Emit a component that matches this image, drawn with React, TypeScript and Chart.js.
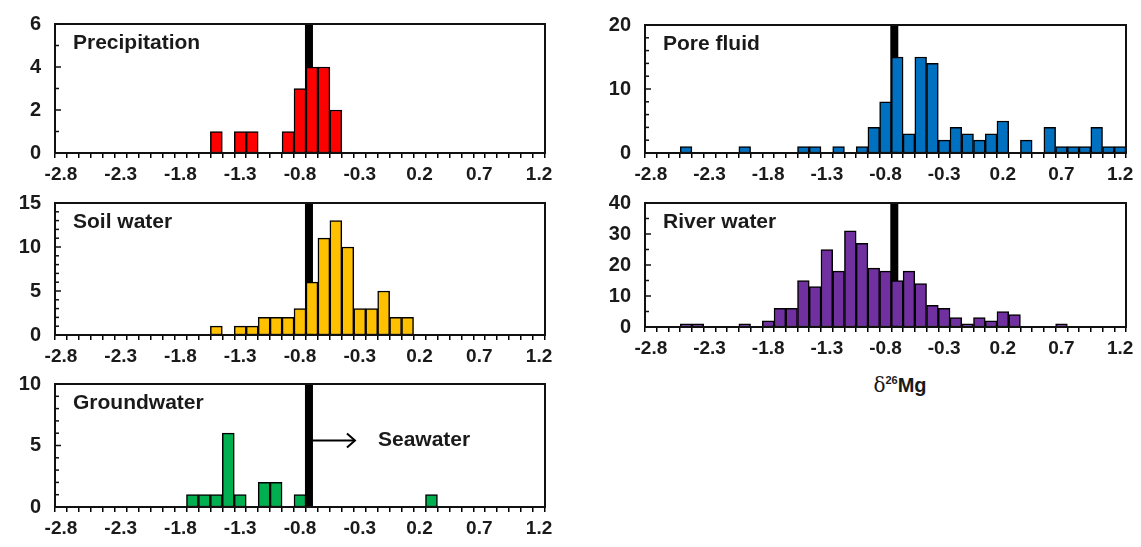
import React, { useEffect, useRef } from "react";
import { Chart, registerables } from "chart.js";

Chart.register(...registerables);

// δ26Mg bins (category axis, 0.1 wide)
const categories = [
  "-2.8", "-2.7", "-2.6", "-2.5", "-2.4", "-2.3", "-2.2", "-2.1", "-2.0", "-1.9",
  "-1.8", "-1.7", "-1.6", "-1.5", "-1.4", "-1.3", "-1.2", "-1.1", "-1.0", "-0.9",
  "-0.8", "-0.7", "-0.6", "-0.5", "-0.4", "-0.3", "-0.2", "-0.1", "0.0", "0.1",
  "0.2", "0.3", "0.4", "0.5", "0.6", "0.7", "0.8", "0.9", "1.0", "1.1",
  "1.2",
];
const xTickLabels = ["-2.8", "-2.3", "-1.8", "-1.3", "-0.8", "-0.3", "0.2", "0.7", "1.2"];

const precipitation = [
  0, 0, 0, 0, 0, 0, 0, 0, 0, 0,
  0, 0, 0, 1, 0, 1, 1, 0, 0, 1,
  3, 4, 4, 2, 0, 0, 0, 0, 0, 0,
  0, 0, 0, 0, 0, 0, 0, 0, 0, 0,
  0,
];
const soilWater = [
  0, 0, 0, 0, 0, 0, 0, 0, 0, 0,
  0, 0, 0, 1, 0, 1, 1, 2, 2, 2,
  3, 6, 11, 13, 10, 3, 3, 5, 2, 2,
  0, 0, 0, 0, 0, 0, 0, 0, 0, 0,
  0,
];
const groundwater = [
  0, 0, 0, 0, 0, 0, 0, 0, 0, 0,
  0, 1, 1, 1, 6, 1, 0, 2, 2, 0,
  1, 0, 0, 0, 0, 0, 0, 0, 0, 0,
  0, 1, 0, 0, 0, 0, 0, 0, 0, 0,
  0,
];
const poreFluid = [
  0, 0, 0, 1, 0, 0, 0, 0, 1, 0,
  0, 0, 0, 1, 1, 0, 1, 0, 1, 4,
  8, 15, 3, 15, 14, 2, 4, 3, 2, 3,
  5, 0, 2, 0, 4, 1, 1, 1, 4, 1,
  1,
];
const riverWater = [
  0, 0, 0, 1, 1, 0, 0, 0, 1, 0,
  2, 6, 6, 15, 13, 25, 18, 31, 27, 19,
  18, 15, 18, 14, 7, 6, 3, 1, 3, 2,
  5, 4, 0, 0, 0, 1, 0, 0, 0, 0,
  0,
];

// seawater reference mark, as placed on the category axis
const seawaterMark = -0.725;

const FONT = '"Liberation Sans", Arial, Helvetica, sans-serif';
const YW = 55;
const PT = 26; // space Chart.js reserves above the plot for the top y label
const PR = 16;
const XH = 34;

type PanelDef = {
  label: string;
  data: number[];
  color: string;
  yMax: number;
  yMajor: number;
  yMinor: number;
  px0: number;
  px1: number;
  py0: number;
  py1: number;
  seawaterNote?: boolean;
};

const panels: PanelDef[] = [
  { label: "Precipitation", data: precipitation, color: "#FF0000", yMax: 6, yMajor: 2, yMinor: 1, px0: 55, px1: 545, py0: 24, py1: 153 },
  { label: "Soil water", data: soilWater, color: "#FFC000", yMax: 15, yMajor: 5, yMinor: 1, px0: 55, px1: 545, py0: 203, py1: 335 },
  { label: "Groundwater", data: groundwater, color: "#00B050", yMax: 10, yMajor: 5, yMinor: 1, px0: 55, px1: 545, py0: 384, py1: 507, seawaterNote: true },
  { label: "Pore fluid", data: poreFluid, color: "#0070C0", yMax: 20, yMajor: 10, yMinor: 2, px0: 645, px1: 1126, py0: 25, py1: 153 },
  { label: "River water", data: riverWater, color: "#7030A0", yMax: 40, yMajor: 10, yMinor: 5, px0: 645, px1: 1126, py0: 203, py1: 327 },
];

function Panel({ def }: { def: PanelDef }) {
  const ref = useRef<HTMLCanvasElement | null>(null);
  const width = def.px1 - def.px0 + YW + PR;
  const height = def.py1 - def.py0 + PT + XH;

  useEffect(() => {
    const canvas = ref.current;
    if (!canvas) return;
    const start = Number(categories[0]);
    const step = Number(categories[1]) - Number(categories[0]);
    const markIndex = (seawaterMark - start) / step;

    const decor = {
      id: "decor",
      beforeDatasetsDraw(chart: any) {
        const { ctx, chartArea, scales } = chart;
        const x = scales.x.getPixelForValue(markIndex);
        ctx.save();
        ctx.fillStyle = "#000";
        ctx.fillRect(x - 4, chartArea.top, 8, chartArea.bottom - chartArea.top);
        ctx.restore();
      },
      afterDatasetsDraw(chart: any) {
        const { ctx, chartArea, scales } = chart;
        ctx.save();
        ctx.strokeStyle = "#111";
        ctx.lineWidth = 2;
        ctx.strokeRect(chartArea.left, chartArea.top, chartArea.right - chartArea.left, chartArea.bottom - chartArea.top);
        // inner y ticks
        ctx.lineWidth = 1.5;
        scales.y.ticks.forEach((t: any) => {
          const y = scales.y.getPixelForValue(t.value);
          const len = t.value % def.yMajor === 0 ? 6 : 4;
          ctx.beginPath();
          ctx.moveTo(chartArea.left, y);
          ctx.lineTo(chartArea.left + len, y);
          ctx.stroke();
        });
        // panel label
        ctx.fillStyle = "#1a1a1a";
        ctx.font = `bold 21px ${FONT}`;
        ctx.textBaseline = "middle";
        ctx.textAlign = "left";
        ctx.fillText(def.label, chartArea.left + 18, chartArea.top + 19);
        if (def.seawaterNote) {
          const x = scales.x.getPixelForValue(markIndex);
          const y = scales.y.getPixelForValue(5.4);
          ctx.strokeStyle = "#000";
          ctx.lineWidth = 2;
          ctx.beginPath();
          ctx.moveTo(x + 4, y);
          ctx.lineTo(x + 46, y);
          ctx.stroke();
          ctx.beginPath();
          ctx.moveTo(x + 38, y - 7);
          ctx.lineTo(x + 46, y);
          ctx.lineTo(x + 38, y + 7);
          ctx.stroke();
          ctx.fillText("Seawater", x + 69, y);
        }
        ctx.restore();
      },
    };

    const chart = new Chart(canvas, {
      type: "bar",
      data: {
        labels: categories,
        datasets: [
          {
            data: def.data.map((v) => (v === 0 ? null : v)),
            backgroundColor: def.color,
            borderColor: "#000",
            borderWidth: 1.5,
            borderSkipped: false,
            barPercentage: 1,
            categoryPercentage: 1,
          },
        ],
      },
      options: {
        responsive: false,
        maintainAspectRatio: false,
        animation: false,
        events: [],
        layout: { padding: { top: 0, right: PR, left: 0, bottom: 0 } },
        plugins: { legend: { display: false }, tooltip: { enabled: false } },
        scales: {
          x: {
            type: "category",
            offset: true,
            afterFit: (s: any) => {
              s.height = XH;
            },
            border: { display: false },
            grid: {
              offset: true,
              drawOnChartArea: false,
              drawTicks: true,
              tickLength: 5,
              color: "#000",
              lineWidth: 1.5,
            },
            ticks: {
              autoSkip: false,
              maxRotation: 0,
              minRotation: 0,
              padding: 5,
              color: "#1a1a1a",
              font: { family: FONT, size: 19, weight: "bold" },
              callback: function (this: any, _v: any, i: number) {
                const lab = categories[i];
                return xTickLabels.includes(lab) ? lab : "";
              },
            },
          },
          y: {
            min: 0,
            max: def.yMax,
            afterFit: (s: any) => {
              s.width = YW;
            },
            border: { display: false },
            grid: { display: false, drawTicks: false },
            ticks: {
              autoSkip: false,
              stepSize: def.yMinor,
              padding: 14,
              color: "#1a1a1a",
              font: { family: FONT, size: 20, weight: "bold" },
              callback: (v: any) => (Number(v) % def.yMajor === 0 ? String(v) : ""),
            },
          },
        },
      } as any,
      plugins: [decor],
    });
    return () => chart.destroy();
  }, [def]);

  return (
    <canvas
      ref={ref}
      width={width}
      height={height}
      style={{
        position: "absolute",
        left: def.px0 - YW,
        top: def.py0 - PT,
        width,
        height,
        display: "block",
      }}
    />
  );
}

export default function App() {
  return (
    <div
      style={{
        position: "absolute",
        left: 0,
        top: 0,
        width: 1141,
        height: 547,
        background: "#fff",
        overflow: "hidden",
      }}
    >
      {panels.map((p) => (
        <Panel key={p.label} def={p} />
      ))}
      <div
        style={{
          position: "absolute",
          left: 785,
          top: 367,
          width: 230,
          textAlign: "center",
          color: "#1a1a1a",
          fontFamily: FONT,
          fontSize: 20,
          fontWeight: "bold",
          lineHeight: "26px",
        }}
      >
        <span style={{ fontFamily: '"DejaVu Serif", "Liberation Serif", serif', fontWeight: "normal" }}>δ</span>
        <sup style={{ fontSize: 11, verticalAlign: "8px" }}>26</sup>
        <span>Mg</span>
      </div>
    </div>
  );
}
